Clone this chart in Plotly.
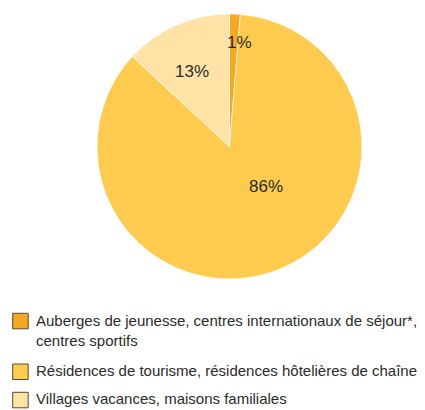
import math
import plotly.graph_objects as go

labels = [
    "Auberges de jeunesse, centres internationaux de séjour*,<br>centres sportifs",
    "Résidences de tourisme, résidences hôtelières de chaîne",
    "Villages vacances, maisons familiales",
]
values = [1.3, 85.6, 13.1]
colors = ["#F7A823", "#FECB4F", "#FFE2A6"]

# label placement style (fraction of radius, angular nudge in degrees)
label_r = [0.79, 0.41, 0.63]
label_dtheta = [3.4, -21.5, -3.0]

# figure is drawn inside the page's 8px body margin
W, H = 417, 402
cx, cy, R = 221.5, 138.5, 132.5
FONT = "Liberation Sans, Arial, Helvetica, sans-serif"
TXT = "#2b2b2b"

fig = go.Figure()
fig.add_trace(go.Pie(
    labels=labels,
    values=values,
    sort=False,
    direction="clockwise",
    rotation=0,
    marker=dict(colors=colors, line=dict(color="white", width=0.6)),
    textinfo="none",
    hoverinfo="label+percent",
    showlegend=False,
    domain=dict(x=[(cx - R) / W, (cx + R) / W], y=[1 - (cy + R) / H, 1 - (cy - R) / H]),
))

# percentage labels, placed from the slice angles
total = sum(values)
cum = 0.0
for v, rf, dth in zip(values, label_r, label_dtheta):
    mid = (cum + v / 2) / total * 360 + dth
    cum += v
    th = math.radians(mid)
    px = cx + rf * R * math.sin(th)
    py = cy - rf * R * math.cos(th)
    fig.add_annotation(xref="paper", yref="paper", x=px / W, y=1 - py / H,
                       xanchor="center", yanchor="middle", showarrow=False,
                       text=f"{round(v / total * 100)}%",
                       font=dict(family=FONT, size=17, color=TXT))

# legend
sq_x0, sq_size = 4.7, 15.5
sq_tops = [305.3, 356.0, 384.3]
text_mid = [322.0, 362.5, 390.0]
for i, (lab, col) in enumerate(zip(labels, colors)):
    fig.add_shape(type="rect", xref="paper", yref="paper",
                  x0=sq_x0 / W, x1=(sq_x0 + sq_size) / W,
                  y0=1 - (sq_tops[i] + sq_size) / H, y1=1 - sq_tops[i] / H,
                  fillcolor=col, line=dict(color="#5a4a30", width=1))
    fig.add_annotation(xref="paper", yref="paper", x=26 / W, y=1 - text_mid[i] / H,
                       xanchor="left", yanchor="middle",
                       text=lab, showarrow=False, align="left",
                       font=dict(family=FONT, size=15, color=TXT))

fig.update_layout(
    width=W, height=H,
    margin=dict(l=0, r=0, t=0, b=0),
    paper_bgcolor="white", plot_bgcolor="white",
)
fig.write_html("out.html")
